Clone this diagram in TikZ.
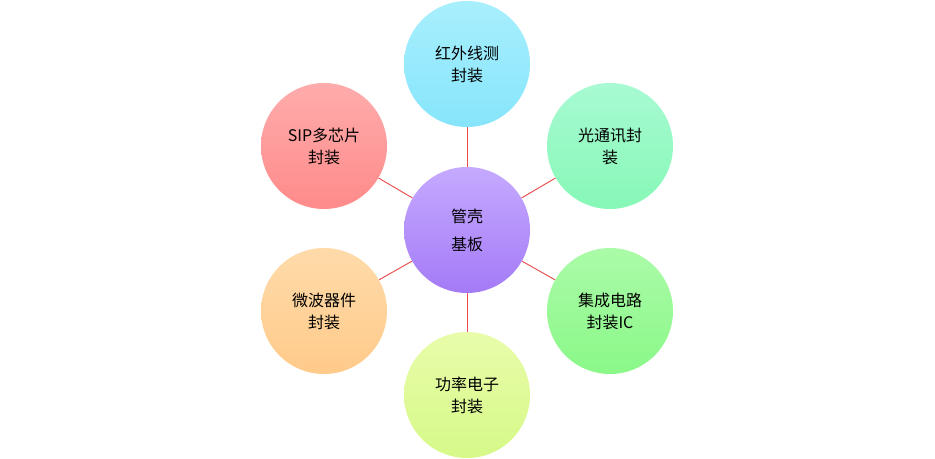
\documentclass[tikz,border=0pt]{standalone}
\usepackage{fontspec}
\setmainfont{Noto Sans CJK SC}
\definecolor{linkred}{HTML}{E84C4C}
\definecolor{hubtop}{HTML}{C5AAFF}
\definecolor{hubbot}{HTML}{A47AF6}
\definecolor{irtop}{HTML}{A8EFFD}
\definecolor{irbot}{HTML}{86E5FB}
\definecolor{opttop}{HTML}{A8FAD3}
\definecolor{optbot}{HTML}{86F8B6}
\definecolor{ictop}{HTML}{ABFBA8}
\definecolor{icbot}{HTML}{8AF888}
\definecolor{pwrtop}{HTML}{E8FCAA}
\definecolor{pwrbot}{HTML}{D6F988}
\definecolor{mwtop}{HTML}{FFDBAA}
\definecolor{mwbot}{HTML}{FFCA8A}
\definecolor{siptop}{HTML}{FFACAC}
\definecolor{sipbot}{HTML}{FF8A8A}
\begin{document}
\begin{tikzpicture}[x=0.75pt,y=-0.75pt,
    ball/.style={circle,minimum size=94.5pt,inner sep=0pt,align=center,
        font=\fontsize{12}{16.5}\selectfont,
        top color=#1top,bottom color=#1bot},
    link/.style={draw=linkred,line width=0.7pt}]
    % 画面の範囲
    \useasboundingbox (0,0) rectangle (935,459);

    % 中央の円
    \node[ball=hub] (hub) at (467,230) {管壳\\[4.5pt]基板};

    % 周りの6つの円
    \node[ball=ir] (ir) at (467,64) {红外线测\\封装};
    \node[ball=opt] (opt) at (610,146) {光通讯封\\装};
    \node[ball=ic] (ic) at (610,311) {集成电路\\封装IC};
    \node[ball=pwr] (pwr) at (467,395) {功率电子\\封装};
    \node[ball=mw] (mw) at (324,311) {微波器件\\封装};
    \node[ball=sip] (sip) at (324,146) {SIP多芯片\\封装};

    % 中央から各円への線
    \foreach \n in {ir,opt,ic,pwr,mw,sip}
        \draw[link] (hub) -- (\n);
\end{tikzpicture}
\end{document}
